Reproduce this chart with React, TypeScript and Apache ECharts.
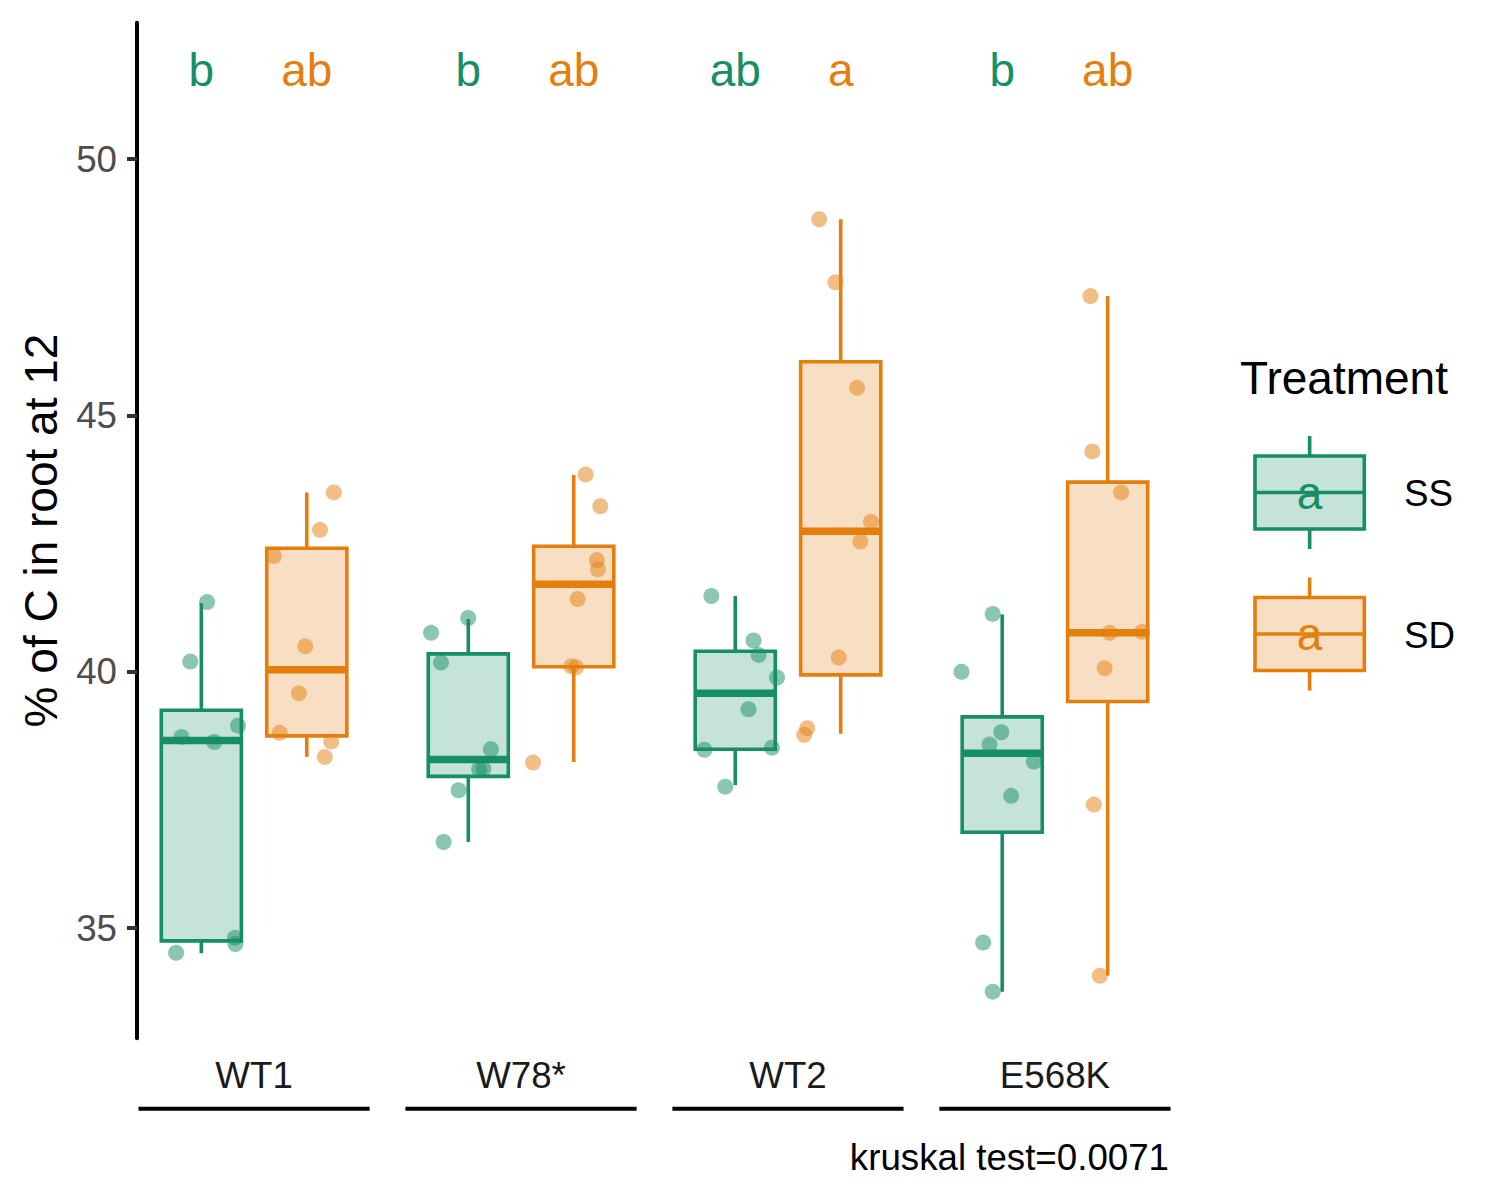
import React, { useEffect, useRef } from "react";
import * as echarts from "echarts";

// ---------- data ----------
const categories = ["WT1", "W78*", "WT2", "E568K"];
const treatments = ["SS", "SD"];
const yTickValues = [35, 40, 45, 50];

// box statistics per category: [lower whisker, Q1, median, Q3, upper whisker]
const ssBoxes = [
  [34.51, 34.75, 38.66, 39.25, 41.34],
  [36.68, 37.96, 38.29, 40.35, 41.03],
  [37.79, 38.49, 39.58, 40.4, 41.48],
  [33.76, 36.87, 38.41, 39.12, 41.12],
];
const sdBoxes = [
  [38.34, 38.75, 40.04, 42.41, 43.5],
  [38.24, 40.1, 41.71, 42.45, 43.84],
  [38.79, 39.94, 42.74, 46.05, 48.83],
  [34.07, 39.42, 40.76, 43.7, 47.33],
];

// individual observations (values) per category
const ssValues = [
  [41.36, 40.2, 38.73, 38.63, 38.95, 34.81, 34.69, 34.52],
  [41.05, 40.76, 40.18, 38.49, 38.1, 38.11, 37.69, 36.68],
  [41.48, 40.61, 40.33, 39.89, 39.27, 38.48, 38.52, 37.76],
  [41.13, 40.0, 38.82, 38.58, 38.25, 37.58, 34.72, 33.76],
];
const sdValues = [
  [43.5, 42.77, 42.26, 40.5, 39.58, 38.81, 38.64, 38.34],
  [43.85, 43.23, 42.18, 42.0, 41.42, 40.11, 40.09, 38.23],
  [48.83, 47.6, 45.54, 42.93, 42.54, 40.28, 38.9, 38.77],
  [47.33, 44.3, 43.5, 40.76, 40.78, 40.07, 37.41, 34.07],
];
// horizontal jitter of each observation, in category units from the group centre
const ssJitter = [
  [-0.176, -0.239, -0.272, -0.149, -0.06, -0.072, -0.07, -0.292],
  [-0.198, -0.337, -0.3, -0.113, -0.157, -0.141, -0.234, -0.29],
  [-0.287, -0.129, -0.11, -0.041, -0.148, -0.313, -0.06, -0.235],
  [-0.233, -0.35, -0.201, -0.245, -0.079, -0.164, -0.269, -0.233],
];
const sdJitter = [
  [0.299, 0.247, 0.074, 0.192, 0.168, 0.096, 0.289, 0.265],
  [0.242, 0.297, 0.284, 0.288, 0.212, 0.188, 0.206, 0.045],
  [0.117, 0.178, 0.259, 0.311, 0.271, 0.19, 0.072, 0.061],
  [0.133, 0.14, 0.248, 0.205, 0.327, 0.186, 0.146, 0.168],
];

const ssLetters = ["b", "b", "ab", "b"];
const sdLetters = ["ab", "ab", "a", "ab"];
const letterY = 51.75;
const legendLetter = "a";
const legendTitle = "Treatment";
const yAxisTitle = "% of C in root at 12";
const captionText = "kruskal test=0.0071";

// ---------- layout / style ----------
const FONT = "'Liberation Sans', Arial, Helvetica, sans-serif";
const GREEN = "#168E66";
const ORANGE = "#E47F0E";
const GREEN_FILL = "rgba(22,142,102,0.25)";
const ORANGE_FILL = "rgba(228,127,14,0.25)";
const X_MIN = 0.5615;
const X_MAX = 4.4385;
const Y_MIN = 32.85;
const Y_MAX = 52.664;
const DODGE = 0.1975;
const BOX_WIDTH = 0.3;
const UNDERLINE_HALF = 0.433;
const LINE_W = 3.6;

function boxRenderer(color: string, fill: string) {
  return (_params: any, api: any) => {
    const x = api.value(0);
    const lo = api.coord([x, api.value(1)]);
    const q1 = api.coord([x, api.value(2)]);
    const med = api.coord([x, api.value(3)]);
    const q3 = api.coord([x, api.value(4)]);
    const hi = api.coord([x, api.value(5)]);
    const w = api.size([BOX_WIDTH, 0])[0];
    const cx = lo[0];
    return {
      type: "group",
      children: [
        { type: "line", shape: { x1: cx, y1: hi[1], x2: cx, y2: q3[1] }, style: { stroke: color, lineWidth: LINE_W } },
        { type: "line", shape: { x1: cx, y1: q1[1], x2: cx, y2: lo[1] }, style: { stroke: color, lineWidth: LINE_W } },
        {
          type: "rect",
          shape: { x: cx - w / 2, y: q3[1], width: w, height: q1[1] - q3[1] },
          style: { fill, stroke: color, lineWidth: LINE_W },
        },
        {
          type: "line",
          shape: { x1: cx - w / 2, y1: med[1], x2: cx + w / 2, y2: med[1] },
          style: { stroke: color, lineWidth: 7.5, lineCap: "butt" },
        },
      ],
    };
  };
}

function letterRenderer(letters: string[], color: string) {
  return (_params: any, api: any) => {
    const p = api.coord([api.value(0), api.value(1)]);
    return {
      type: "text",
      x: p[0],
      y: p[1],
      style: {
        text: letters[api.value(2)],
        fill: color,
        fontSize: 46,
        fontFamily: FONT,
        align: "center",
        verticalAlign: "middle",
      },
    };
  };
}

function legendKey(color: string, fill: string, cy: number, label: string) {
  const x0 = 1255;
  const w = 109.3;
  const cx = x0 + w / 2;
  const h = 73;
  return {
    type: "group",
    children: [
      { type: "line", shape: { x1: cx, y1: cy - h / 2 - 20, x2: cx, y2: cy - h / 2 }, style: { stroke: color, lineWidth: LINE_W } },
      { type: "line", shape: { x1: cx, y1: cy + h / 2, x2: cx, y2: cy + h / 2 + 20 }, style: { stroke: color, lineWidth: LINE_W } },
      { type: "rect", shape: { x: x0, y: cy - h / 2, width: w, height: h }, style: { fill, stroke: color, lineWidth: LINE_W } },
      { type: "line", shape: { x1: x0, y1: cy, x2: x0 + w, y2: cy }, style: { stroke: color, lineWidth: LINE_W } },
      {
        type: "text",
        x: cx,
        y: cy,
        style: { text: legendLetter, fill: color, fontSize: 46, fontFamily: FONT, align: "center", verticalAlign: "middle" },
      },
      {
        type: "text",
        x: 1404,
        y: cy + 1,
        style: { text: label, fill: "#000000", fontSize: 36.7, fontFamily: FONT, align: "left", verticalAlign: "middle" },
      },
    ],
  };
}

export default function App() {
  const ref = useRef<HTMLDivElement>(null);

  useEffect(() => {
    if (!ref.current) return;
    const chart = echarts.init(ref.current, undefined, { renderer: "svg" });

    const ssBoxData = ssBoxes.map((b, c) => [c + 1 - DODGE, ...b]);
    const sdBoxData = sdBoxes.map((b, c) => [c + 1 + DODGE, ...b]);
    const ssPointData: number[][] = [];
    ssValues.forEach((vals, c) => vals.forEach((v, i) => ssPointData.push([c + 1 + ssJitter[c][i], v])));
    const sdPointData: number[][] = [];
    sdValues.forEach((vals, c) => vals.forEach((v, i) => sdPointData.push([c + 1 + sdJitter[c][i], v])));
    const ssLetterData = ssLetters.map((_, c) => [c + 1 - DODGE, letterY, c]);
    const sdLetterData = sdLetters.map((_, c) => [c + 1 + DODGE, letterY, c]);
    const underlineData = categories.map((_, c) => [c + 1, Y_MIN]);

    const option: any = {
      animation: false,
      backgroundColor: "#ffffff",
      textStyle: { fontFamily: FONT },
      grid: { left: 137, right: 328, top: 22.7, bottom: 161.7, containLabel: false },
      title: {
        text: captionText,
        right: 331,
        top: 1139,
        padding: 0,
        textStyle: { fontSize: 36.7, fontWeight: "normal", color: "#000000", fontFamily: FONT },
      },
      xAxis: {
        type: "value",
        min: X_MIN,
        max: X_MAX,
        axisLine: { show: false },
        axisTick: { show: false },
        splitLine: { show: false },
        axisLabel: {
          customValues: [1, 2, 3, 4],
          formatter: (v: number) => categories[Math.round(v) - 1] ?? "",
          fontSize: 36.7,
          color: "#1A1A1A",
          margin: 19,
          fontFamily: FONT,
        },
      },
      yAxis: {
        type: "value",
        min: Y_MIN,
        max: Y_MAX,
        name: yAxisTitle,
        nameLocation: "middle",
        nameGap: 73,
        nameTextStyle: { fontSize: 46, color: "#000000", fontFamily: FONT },
        axisLine: { show: true, onZero: false, lineStyle: { color: "#000000", width: 4 } },
        axisTick: { show: true, length: 10, customValues: yTickValues, lineStyle: { color: "#333333", width: 4 } },
        axisLabel: { customValues: yTickValues, fontSize: 36.7, color: "#4D4D4D", margin: 20, fontFamily: FONT },
        splitLine: { show: false },
      },
      series: [
        {
          name: "SS boxes",
          type: "custom",
          renderItem: boxRenderer(GREEN, GREEN_FILL),
          data: ssBoxData,
          encode: { x: 0, y: [1, 2, 3, 4, 5] },
          z: 2,
        },
        {
          name: "SD boxes",
          type: "custom",
          renderItem: boxRenderer(ORANGE, ORANGE_FILL),
          data: sdBoxData,
          encode: { x: 0, y: [1, 2, 3, 4, 5] },
          z: 2,
        },
        {
          name: treatments[0],
          type: "scatter",
          data: ssPointData,
          symbolSize: 16,
          itemStyle: { color: GREEN, opacity: 0.5 },
          z: 3,
        },
        {
          name: treatments[1],
          type: "scatter",
          data: sdPointData,
          symbolSize: 16,
          itemStyle: { color: ORANGE, opacity: 0.5 },
          z: 3,
        },
        {
          name: "SS letters",
          type: "custom",
          renderItem: letterRenderer(ssLetters, GREEN),
          data: ssLetterData,
          encode: { x: 0, y: 1 },
          z: 4,
        },
        {
          name: "SD letters",
          type: "custom",
          renderItem: letterRenderer(sdLetters, ORANGE),
          data: sdLetterData,
          encode: { x: 0, y: 1 },
          z: 4,
        },
        {
          name: "group underline",
          type: "custom",
          clip: false,
          renderItem: (_p: any, api: any) => {
            const x = api.value(0);
            const a = api.coord([x - UNDERLINE_HALF, api.value(1)]);
            const b = api.coord([x + UNDERLINE_HALF, api.value(1)]);
            const y = a[1] + 70.4;
            return {
              type: "line",
              shape: { x1: a[0], y1: y, x2: b[0], y2: y },
              style: { stroke: "#000000", lineWidth: 4 },
            };
          },
          data: underlineData,
          encode: { x: 0, y: 1 },
          z: 2,
        },
      ],
      graphic: [
        {
          type: "text",
          x: 1240,
          y: 378,
          style: { text: legendTitle, fill: "#000000", fontSize: 46, fontFamily: FONT, align: "left", verticalAlign: "middle" },
        },
        legendKey(GREEN, GREEN_FILL, 492.5, treatments[0]),
        legendKey(ORANGE, ORANGE_FILL, 634, treatments[1]),
      ],
    };

    chart.setOption(option);
    return () => chart.dispose();
  }, []);

  return (
    <div
      ref={ref}
      style={{ position: "fixed", left: 0, top: 0, width: 1500, height: 1200, background: "#ffffff" }}
    />
  );
}
